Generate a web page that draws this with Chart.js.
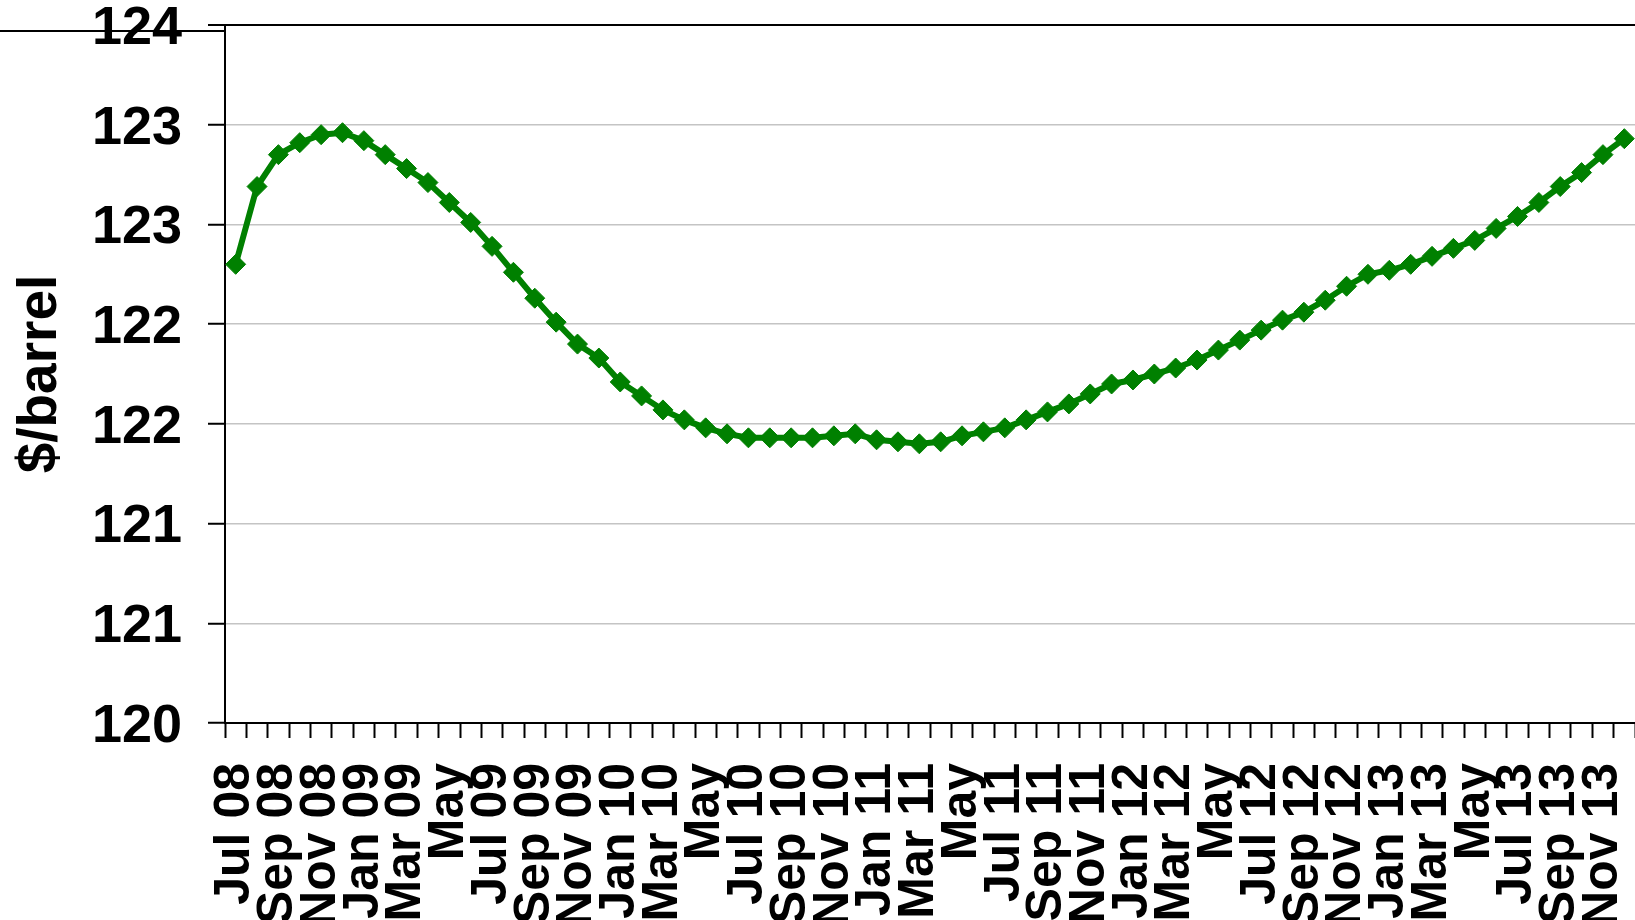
<!DOCTYPE html>
<html>
<head>
<meta charset="utf-8">
<script src="https://cdn.jsdelivr.net/npm/chart.js@4"></script>
<style>
  html, body { margin: 0; padding: 0; background: #fff; }
  #wrap { width: 1635px; height: 920px; position: relative; }
</style>
</head>
<body>
<div id="wrap"><canvas id="c" width="1635" height="920"></canvas></div>
<script>
// Monthly categories, Jul 2008 to Dec 2013
const categories = [
  'Jul 08','Aug 08','Sep 08','Oct 08','Nov 08','Dec 08',
  'Jan 09','Feb 09','Mar 09','Apr 09','May 09','Jun 09','Jul 09','Aug 09','Sep 09','Oct 09','Nov 09','Dec 09',
  'Jan 10','Feb 10','Mar 10','Apr 10','May 10','Jun 10','Jul 10','Aug 10','Sep 10','Oct 10','Nov 10','Dec 10',
  'Jan 11','Feb 11','Mar 11','Apr 11','May 11','Jun 11','Jul 11','Aug 11','Sep 11','Oct 11','Nov 11','Dec 11',
  'Jan 12','Feb 12','Mar 12','Apr 12','May 12','Jun 12','Jul 12','Aug 12','Sep 12','Oct 12','Nov 12','Dec 12',
  'Jan 13','Feb 13','Mar 13','Apr 13','May 13','Jun 13','Jul 13','Aug 13','Sep 13','Oct 13','Nov 13','Dec 13'
];

// Labels printed under the axis (every second month)
const xTickLabels = [
  'Jul 08','','Sep 08','','Nov 08','',
  'Jan 09','','Mar 09','','May','','Jul 09','','Sep 09','','Nov 09','',
  'Jan 10','','Mar 10','','May','','Jul 10','','Sep 10','','Nov 10','',
  'Jan 11','','Mar 11','','May','','Jul 11','','Sep 11','','Nov 11','',
  'Jan 12','','Mar 12','','May','','Jul 12','','Sep 12','','Nov 12','',
  'Jan 13','','Mar 13','','May','','Jul 13','','Sep 13','','Nov 13',''
];

// Price, $/barrel
const prices = [
  122.30, 122.69, 122.85, 122.91, 122.95, 122.96,
  122.92, 122.85, 122.78, 122.71, 122.61, 122.51, 122.39, 122.26, 122.13, 122.01, 121.90, 121.83,
  121.71, 121.64, 121.57, 121.52, 121.48, 121.45, 121.43, 121.43, 121.43, 121.43, 121.44, 121.45,
  121.42, 121.41, 121.40, 121.41, 121.44, 121.46, 121.48, 121.52, 121.56, 121.60, 121.65, 121.70,
  121.72, 121.75, 121.78, 121.82, 121.87, 121.92, 121.97, 122.02, 122.06, 122.12, 122.19, 122.25,
  122.27, 122.30, 122.34, 122.38, 122.42, 122.48, 122.54, 122.61, 122.69, 122.76, 122.85, 122.93
];

// Value axis: 120 to 123.5 in steps of 0.5, printed with no decimals
const yMin = 120;
const yMax = 123.5;
const yStep = 0.5;
const yTickLabels = ['120', '121', '121', '122', '122', '123', '123', '124'];

const FONT = '"Liberation Sans", Arial, Helvetica, sans-serif';

// Short rule at the upper left, just below the top of the plot frame
const cornerRule = {
  id: 'cornerRule',
  afterDraw(chart) {
    const { ctx, chartArea } = chart;
    ctx.save();
    ctx.strokeStyle = '#000';
    ctx.lineWidth = 2;
    ctx.beginPath();
    ctx.moveTo(0, chartArea.top + 6);
    ctx.lineTo(chartArea.left, chartArea.top + 6);
    ctx.stroke();
    ctx.restore();
  }
};

new Chart(document.getElementById('c'), {
  type: 'line',
  data: {
    labels: categories,
    datasets: [{
      data: prices,
      borderColor: '#008000',
      backgroundColor: '#008000',
      borderWidth: 6,
      pointStyle: 'rectRot',
      pointRadius: 10,
      pointBorderWidth: 1,
      pointBackgroundColor: '#008000',
      pointBorderColor: '#008000',
      tension: 0,
      fill: false,
      clip: false
    }]
  },
  options: {
    responsive: false,
    animation: false,
    devicePixelRatio: 1,
    layout: { autoPadding: false, padding: { top: 25, right: 0, bottom: 0, left: 0 } },
    plugins: {
      legend: { display: false },
      tooltip: { enabled: false }
    },
    scales: {
      x: {
        offset: true,
        grid: {
          offset: true,
          drawOnChartArea: false,
          drawTicks: true,
          tickLength: 15,
          tickColor: '#000',
          tickWidth: 2
        },
        border: { display: true, color: '#000', width: 2 },
        ticks: {
          autoSkip: false,
          maxRotation: 90,
          minRotation: 90,
          padding: 25,
          color: '#000',
          font: { family: FONT, size: 50, weight: 'bold', lineHeight: 1 },
          callback: (v, i) => xTickLabels[i]
        },
        afterFit(scale) {
          scale.height = 197;
          scale.paddingLeft = 0;
          scale.paddingRight = 0;
        }
      },
      y: {
        min: yMin,
        max: yMax,
        ticks: {
          stepSize: yStep,
          padding: 26,
          labelOffset: 4,
          color: '#000',
          font: { family: FONT, size: 54, weight: 'bold', lineHeight: 1 },
          callback: (v, i) => yTickLabels[i]
        },
        grid: {
          drawTicks: true,
          tickLength: 17,
          tickColor: '#000',
          tickWidth: 2,
          color: (c) => (c.tick && c.tick.value === yMax ? '#000' : '#c4c4c4'),
          lineWidth: (c) => (c.tick && c.tick.value === yMax ? 2 : 1.5)
        },
        border: { display: true, color: '#000', width: 2 },
        title: {
          display: true,
          text: '$/barrel',
          color: '#000',
          padding: { top: 8, bottom: 0 },
          font: { family: FONT, size: 55, weight: 'bold', lineHeight: 1.2 }
        },
        afterFit(scale) {
          scale.width = 225;
          scale.paddingTop = 0;
          scale.paddingBottom = 0;
        }
      }
    }
  },
  plugins: [cornerRule]
});
</script>
</body>
</html>
